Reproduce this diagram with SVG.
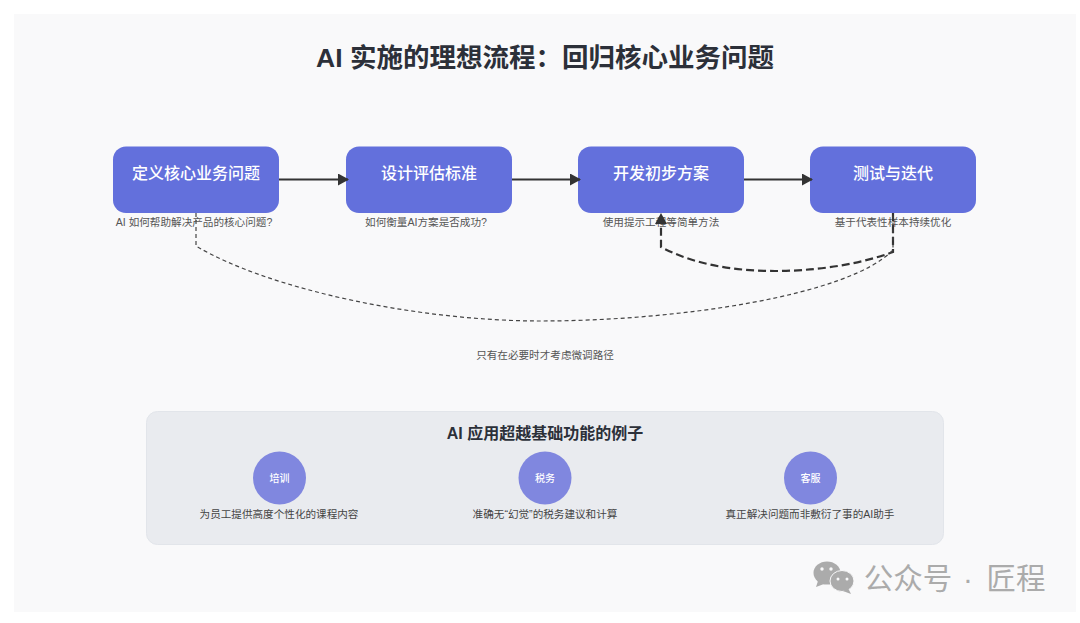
<svg xmlns="http://www.w3.org/2000/svg" width="1080" height="623" viewBox="0 0 1080 623">
<style>
text{font-family:"Liberation Sans","Noto Sans CJK SC",sans-serif;text-anchor:middle}
.node{fill:#6370dc}
.nt{fill:#fff;font-size:16px;font-weight:500}
.sub{fill:#555;font-size:10.6px}
.ex{fill:#8087df}
.ext{fill:#fff;font-size:10px;font-weight:500}
.desc{fill:#444;font-size:10.6px}
.flow{fill:none;stroke:#333;stroke-width:2}
.wm{font-size:29.500px;fill:#ababab}
</style>
<defs>
<marker id="ah" markerWidth="12" markerHeight="12" refX="10" refY="6" orient="auto" markerUnits="userSpaceOnUse"><path d="M0 0L11 6L0 12Z" fill="#333"/></marker>
</defs>
<rect width="1080" height="623" fill="#fff"/>
<rect id="panel" x="14" y="14" width="1062" height="598" fill="#f9f9fa"/>
<text id="title" x="545" y="67" font-size="26.500" font-weight="700" fill="#2c3039">AI 实施的理想流程：回归核心业务问题</text>
<g id="n1"><rect class="node" x="113" y="146.500" width="166" height="66.500" rx="13"/><text class="nt" x="196" y="179">定义核心业务问题</text><text class="sub" x="194" y="226">AI 如何帮助解决产品的核心问题?</text></g>
<g id="n2"><rect class="node" x="346" y="146.500" width="166" height="66.500" rx="13"/><text class="nt" x="429" y="179">设计评估标准</text><text class="sub" x="426" y="226">如何衡量AI方案是否成功?</text></g>
<g id="n3"><rect class="node" x="578" y="146.500" width="166" height="66.500" rx="13"/><text class="nt" x="661" y="179">开发初步方案</text><text class="sub" x="661" y="226">使用提示工程等简单方法</text></g>
<g id="n4"><rect class="node" x="810" y="146.500" width="166" height="66.500" rx="13"/><text class="nt" x="893" y="179">测试与迭代</text><text class="sub" x="893" y="226">基于代表性样本持续优化</text></g>
<g id="connectors">
<path class="flow" d="M279 179.500H348" marker-end="url(#ah)"/>
<path class="flow" d="M512 179.500H580" marker-end="url(#ah)"/>
<path class="flow" d="M744 179.500H812" marker-end="url(#ah)"/>
<path fill="none" stroke="#333" stroke-width="2.200" stroke-dasharray="8 4" d="M893 213V252C855 266 810 271 775 271C735 271 695 265 661 247V214" marker-end="url(#ah)"/>
<path fill="none" stroke="#444" stroke-width="1.200" stroke-dasharray="4 3" d="M196 213V246C270 290 420 321 540 321C680 321 850 295 893 250V213"/>
</g>
<text id="loop-label" class="sub" x="545" y="359">只有在必要时才考虑微调路径</text>
<g id="examples">
<rect x="146.500" y="411.500" width="797" height="133" rx="11" fill="#e9ebef" stroke="#e2e5ea"/>
<text x="545" y="439" font-size="16" font-weight="700" fill="#2c3039">AI 应用超越基础功能的例子</text>
</g>
<g id="ex1"><circle class="ex" cx="279.500" cy="478" r="26.500"/><text class="ext" x="279.500" y="482">培训</text><text class="desc" x="279" y="518">为员工提供高度个性化的课程内容</text></g>
<g id="ex2"><circle class="ex" cx="545" cy="478" r="26.500"/><text class="ext" x="545" y="482">税务</text><text class="desc" x="545" y="518">准确无“幻觉”的税务建议和计算</text></g>
<g id="ex3"><circle class="ex" cx="810.500" cy="478" r="26.500"/><text class="ext" x="810.500" y="482">客服</text><text class="desc" x="810" y="518">真正解决问题而非敷衍了事的AI助手</text></g>
<g id="watermark">
<ellipse cx="827" cy="573" rx="13.500" ry="11.500" fill="#ababab"/><path d="M818 581l-2 6 8-3z" fill="#ababab"/>
<ellipse cx="842" cy="581" rx="12" ry="10.500" fill="#ababab" stroke="#f9f9fa" stroke-width="1"/><path d="M848 588l3 6-8-3z" fill="#ababab"/>
<circle cx="822" cy="569" r="1.700" fill="#f9f9fa"/><circle cx="831" cy="569" r="1.700" fill="#f9f9fa"/>
<circle cx="838" cy="579" r="1.500" fill="#f9f9fa"/><circle cx="847" cy="579" r="1.500" fill="#f9f9fa"/>
<text class="wm" x="908" y="589">公众号</text>
<text class="wm" x="968" y="589">·</text>
<text class="wm" x="1016" y="589">匠程</text>
</g>
</svg>
